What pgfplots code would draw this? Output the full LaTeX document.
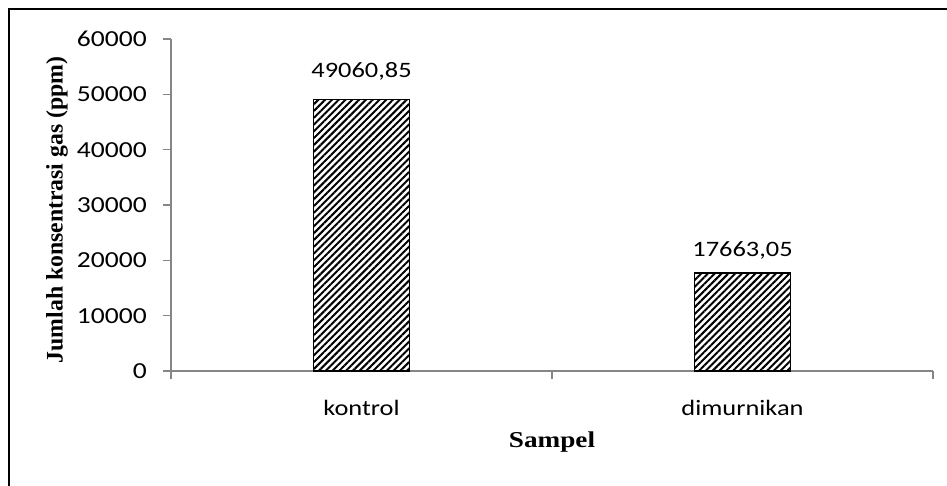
\documentclass[border=0pt]{standalone}
\usepackage{pgfplots}
\pgfplotsset{compat=1.18}
\usetikzlibrary{patterns.meta}
\usepackage{fontspec}
\setmainfont{Carlito}[FakeStretch=1.2]
\newfontfamily\tnr{Liberation Serif}
\newfontfamily\tnrwide{Liberation Serif}[FakeStretch=1.2]
\newfontfamily\carw{Carlito}[FakeStretch=1.2]
\newcommand\yl[1]{{\carw\fontsize{17.2pt}{18pt}\selectfont #1}}
\definecolor{axgray}{HTML}{868686}
\begin{document}
\begin{tikzpicture}
\useasboundingbox (0,0) rectangle (710.25pt,-364.5pt);
\draw[line width=1.5pt] (6.75pt,-364.5pt) -- (6.75pt,-6.75pt) -- (710.25pt,-6.75pt);
\begin{axis}[
  at={(128.25pt,-278.25pt)}, anchor=south west,
  scale only axis, width=571.5pt, height=249pt,
  ybar, bar width=72pt,
  xmin=-0.5, xmax=1.5, ymin=0, ymax=60000,
  axis x line=bottom, axis y line=left,
  axis line style={axgray, line width=1pt, -},
  xtick={0,1}, xticklabels={kontrol,dimurnikan},
  major x tick style={draw=none},
  minor xtick={-0.5,0.5,1.5},
  ytick={0,10000,20000,30000,40000,50000,60000},
  yticklabels={\yl{0},\yl{10000},\yl{20000},\yl{30000},\yl{40000},\yl{50000},\yl{60000}},
  major tick length=6pt, minor tick length=6pt,
  tick align=outside,
  tick style={axgray, line width=1pt},
  /pgf/number format/assume math mode=true,
  scaled y ticks=false,
  xticklabel style={anchor=base, yshift=-27pt, font=\carw\fontsize{16.5pt}{18pt}\selectfont, text=black},
  yticklabel style={anchor=east, inner sep=0pt, xshift=-12pt, text=black},
  xlabel={\tnrwide\bfseries Sampel},
  xlabel style={at={(axis description cs:0.5,0)}, anchor=base, yshift=-57pt, font=\fontsize{17pt}{19pt}\selectfont},
  ylabel={\tnr\bfseries Jumlah konsentrasi gas (ppm)},
  ylabel style={at={(axis description cs:-0.1496,0.485)}, anchor=center, font=\fontsize{17.8pt}{19pt}\selectfont},
  nodes near coords={\pgfmathprintnumber[fixed,fixed zerofill,precision=2,use comma,1000 sep={}]{\pgfplotspointmeta}},
  every node near coord/.append style={anchor=base, font=\fontsize{16.5pt}{18pt}\selectfont, text=black},
]
\addplot[draw=black, line width=1.2pt, pattern={Lines[angle=45,distance=3.6pt,line width=1.5pt]}, pattern color=black, bar shift=0pt,
  every node near coord/.append style={yshift=16.5pt}]
  coordinates {(0,49060.85)};
\addplot[draw=black, line width=1.2pt, pattern={Lines[angle=45,distance=3.6pt,line width=1.5pt]}, pattern color=black, bar shift=0pt,
  every node near coord/.append style={yshift=12.75pt}]
  coordinates {(1,17663.05)};
\end{axis}
\end{tikzpicture}
\end{document}
